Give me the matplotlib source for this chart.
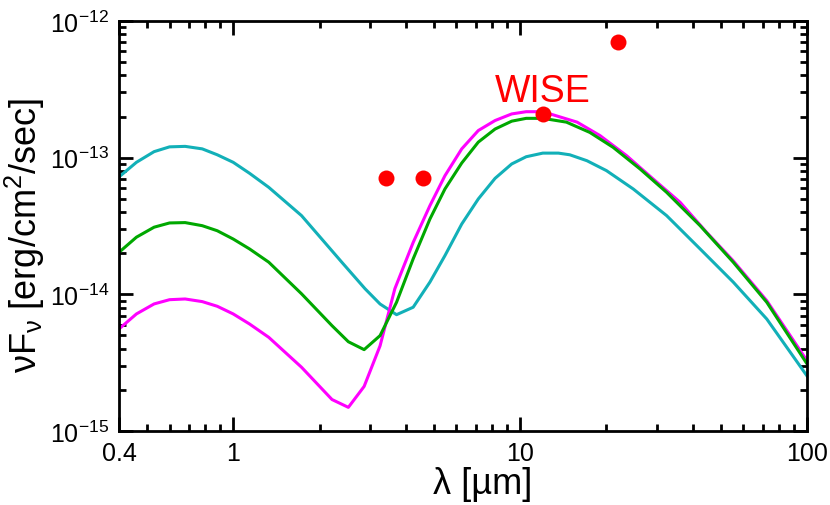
import matplotlib
matplotlib.use("Agg")
import matplotlib.pyplot as plt
from matplotlib.ticker import FixedLocator, NullFormatter, LogLocator

plt.rcParams['font.family'] = ['Liberation Sans', 'DejaVu Sans']
plt.rcParams['mathtext.fontset'] = 'custom'
plt.rcParams['mathtext.rm'] = 'Liberation Sans'
plt.rcParams['mathtext.it'] = 'Liberation Sans'
plt.rcParams['mathtext.bf'] = 'Liberation Sans:bold'

# model SEDs (wavelength in um, nuF_nu in erg/cm2/sec)
wl_cyan = [0.40, 0.46, 0.53, 0.60, 0.68, 0.78, 0.88, 1.00, 1.14, 1.33, 1.73, 2.39,
           2.88, 3.25, 3.71, 4.24, 4.85, 5.47, 6.26, 7.15, 8.18, 9.35, 10.5, 12.0,
           13.6, 14.9, 17.1, 20.0, 24.8, 32.4, 42.4, 55.3, 72.4, 100]
f_cyan = [7.23e-14, 9.25e-14, 1.107e-13, 1.20e-13, 1.21e-13, 1.16e-13, 1.05e-13, 9.25e-14,
          7.69e-14, 6.07e-14, 3.77e-14, 1.72e-14, 1.10e-14, 8.5e-15, 7.1e-15, 8.05e-15,
          1.23e-14, 1.92e-14, 3.27e-14, 4.99e-14, 7.06e-14, 9.0e-14, 1.016e-13, 1.08e-13,
          1.08e-13, 1.05e-13, 9.5e-14, 8.04e-14, 5.9e-14, 3.77e-14, 2.15e-14, 1.23e-14,
          6.6e-15, 2.53e-15]

wl_green = [0.40, 0.46, 0.53, 0.60, 0.68, 0.78, 0.88, 1.00, 1.14, 1.33, 1.73, 2.21,
            2.52, 2.86, 3.25, 3.71, 4.24, 4.85, 5.47, 6.26, 7.15, 8.18, 9.35, 10.5,
            12.0, 14.5, 17.5, 21.1, 26.2, 32.4, 42.4, 55.3, 72.4, 100]
f_green = [2.03e-14, 2.62e-14, 3.10e-14, 3.33e-14, 3.35e-14, 3.18e-14, 2.92e-14, 2.54e-14,
           2.15e-14, 1.72e-14, 1.01e-14, 5.9e-15, 4.5e-15, 3.94e-15, 4.99e-15, 8.75e-15,
           1.82e-14, 3.56e-14, 5.9e-14, 9.14e-14, 1.30e-13, 1.62e-13, 1.85e-13, 1.94e-13,
           1.94e-13, 1.82e-13, 1.53e-13, 1.19e-13, 8.26e-14, 5.58e-14, 3.18e-14, 1.72e-14,
           8.75e-15, 3.10e-15]

wl_mag = [0.40, 0.46, 0.53, 0.60, 0.68, 0.78, 0.88, 1.00, 1.14, 1.33, 1.73, 2.21,
          2.52, 2.86, 3.25, 3.66, 4.24, 4.85, 5.47, 6.26, 7.15, 8.18, 9.35, 10.5,
          12.0, 15.8, 19.0, 23.5, 29.1, 36.1, 44.7, 55.3, 72.4, 100]
f_mag = [5.58e-15, 7.19e-15, 8.51e-15, 9.14e-15, 9.25e-15, 8.85e-15, 8.18e-15, 7.19e-15,
         6.07e-15, 4.85e-15, 2.93e-15, 1.70e-15, 1.49e-15, 2.12e-15, 4.2e-15, 1.10e-14,
         2.40e-14, 4.46e-14, 7.38e-14, 1.16e-13, 1.58e-13, 1.87e-13, 2.09e-13, 2.17e-13,
         2.17e-13, 1.82e-13, 1.45e-13, 1.035e-13, 6.98e-14, 4.72e-14, 2.84e-14, 1.76e-14,
         8.99e-15, 3.27e-15]

# WISE photometry
wise_wl = [3.4, 4.6, 12, 22]
wise_f = [7.1e-14, 7.1e-14, 2.09e-13, 7.0e-13]

xtick_vals = [0.4, 1, 10, 100]
xtick_labels = ['0.4', '1', '10', '100']
ytick_vals = [1e-15, 1e-14, 1e-13, 1e-12]
ytick_labels = [r'$10^{-15}$', r'$10^{-14}$', r'$10^{-13}$', r'$10^{-12}$']

fig = plt.figure(figsize=(8.3, 5.06), dpi=100)
ax = fig.add_axes([0.1434, 0.1462, 0.8289, 0.8103])

ax.plot(wl_cyan, f_cyan, color='#12b0b8', lw=2.2)
ax.plot(wl_mag, f_mag, color='#ff00ff', lw=2.2)
ax.plot(wl_green, f_green, color='#00a800', lw=2.2)
ax.plot(wise_wl, wise_f, 'o', color='#ff0000', ms=11.5, mec='none', zorder=5)
ax.text(12, 2.6e-13, 'WISE', color='#ff0000', fontsize=27, ha='center', va='baseline')

ax.set_xscale('log')
ax.set_yscale('log')
ax.set_xlim(0.4, 100)
ax.set_ylim(1e-15, 1e-12)

ax.xaxis.set_major_locator(FixedLocator(xtick_vals))
ax.set_xticklabels(xtick_labels)
ax.xaxis.set_minor_locator(LogLocator(base=10, subs=range(2, 10)))
ax.xaxis.set_minor_formatter(NullFormatter())
ax.yaxis.set_major_locator(FixedLocator(ytick_vals))
ax.set_yticklabels(ytick_labels)
ax.yaxis.set_minor_locator(LogLocator(base=10, subs=range(2, 10), numticks=10))
ax.yaxis.set_minor_formatter(NullFormatter())

ax.tick_params(which='both', direction='in', top=True, right=True, width=2)
ax.tick_params(which='major', length=10, labelsize=18, pad=7)
ax.tick_params(which='minor', length=5)
for s in ax.spines.values():
    s.set_linewidth(2)

ax.set_xlabel('λ [µm]', fontsize=26)
ax.xaxis.set_label_coords(0.529, -0.085)
ax.set_ylabel(r'$\nu F_\nu$ [erg/cm$^2$/sec]', fontsize=26)
ax.yaxis.set_label_coords(-0.104, 0.48)

fig.savefig('out.png', dpi=100)
